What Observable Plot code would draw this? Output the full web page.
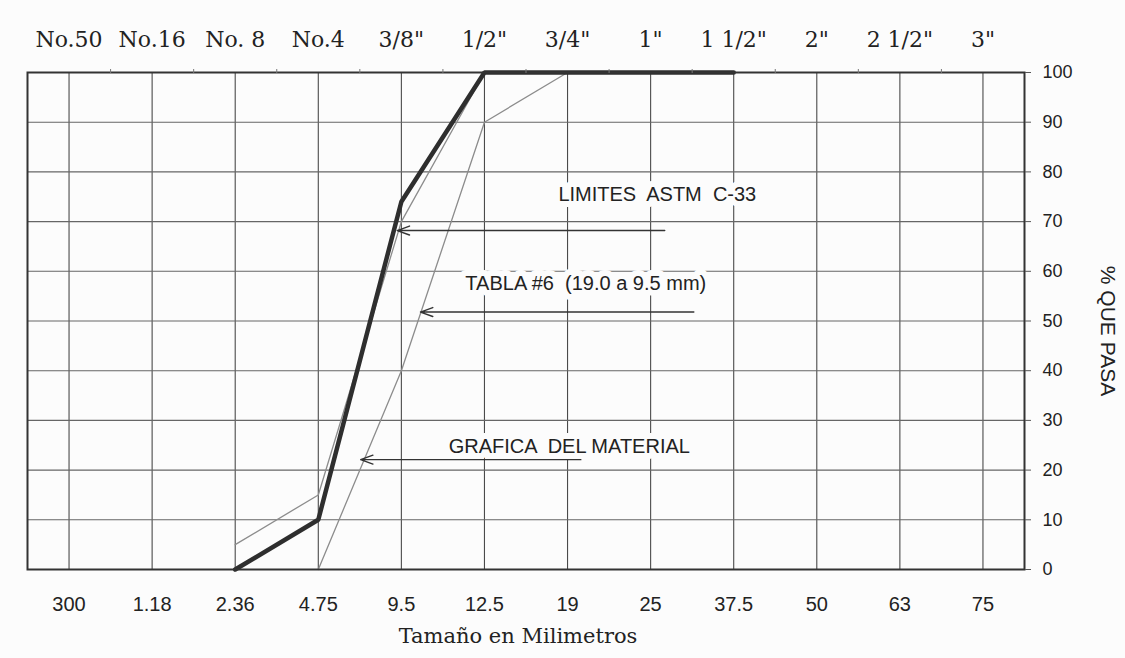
<!DOCTYPE html>
<html>
<head>
<meta charset="utf-8">
<script src="https://cdn.jsdelivr.net/npm/d3@7"></script>
<script src="https://cdn.jsdelivr.net/npm/@observablehq/plot@0.6"></script>
<style>
  html, body { margin: 0; padding: 0; background: #fcfcfc; overflow: hidden; }
  svg { display: block; }
  svg text { white-space: pre; }
</style>
</head>
<body>
<div id="chart"></div>
<script>
// ---- data ----
const sizesMm = ["300", "1.18", "2.36", "4.75", "9.5", "12.5", "19", "25", "37.5", "50", "63", "75"];
const sieveNames = ["No.50", "No.16", "No. 8", "No.4", "3/8\"", "1/2\"", "3/4\"", "1\"", "1 1/2\"", "2\"", "2 1/2\"", "3\""];
const material   = [null, null, 0, 10, 74, 100, 100, 100, 100, null, null, null];
const upperLimit = [null, null, 5, 15, 70, 100, 100, 100, 100, null, null, null];
const lowerLimit = [null, null, null, 0, 40, 90, 100, 100, 100, null, null, null];
const yTicks = [0, 10, 20, 30, 40, 50, 60, 70, 80, 90, 100];
const yGrid = [10, 20, 30, 40, 50, 60, 70, 80, 90];
const annotationTexts = ["LIMITES  ASTM  C-33", "TABLA #6  (19.0 a 9.5 mm)", "GRAFICA  DEL MATERIAL"];
const annotationX = [5.89, 4.77, 4.57];
const annotationY = [75.4, 57.5, 24.7];
const arrowFromX = [7.17, 7.52, 6.16];
const arrowToX   = [3.95, 4.23, 3.51];
const arrowY     = [68.2, 51.8, 22.1];

// ---- build ----
const idx = d3.range(sizesMm.length);
const toRows = (arr, name) => arr.map((v, i) => ({i, v, s: name})).filter(d => d.v !== null);
const limitRows = [...toRows(upperLimit, "sup"), ...toRows(lowerLimit, "inf")];
const materialRows = toRows(material, "mat");
const halfTicks = d3.range(sizesMm.length - 1).map(i => i + 0.5);

const chart = Plot.plot({
  width: 1125,
  height: 658,
  marginLeft: 27,
  marginRight: 101,
  marginTop: 72,
  marginBottom: 89,
  style: {background: "#fcfcfc", color: "#222", fontFamily: "Liberation Sans, Arial, sans-serif", overflow: "visible"},
  x: {type: "linear", domain: [-0.5, sizesMm.length - 0.5]},
  y: {domain: [0, 100]},
  marks: [
    Plot.ruleX(idx, {stroke: "#4a4a4a", strokeWidth: 1.1}),
    Plot.ruleY(yGrid, {stroke: "#666", strokeWidth: 1.1}),
    Plot.line(limitRows, {x: "i", y: "v", z: "s", stroke: "#8c8c8c", strokeWidth: 1.3}),
    Plot.line(materialRows, {x: "i", y: "v", stroke: "#2e2e2e", strokeWidth: 4.5, strokeLinejoin: "miter"}),
    Plot.frame({stroke: "#333", strokeWidth: 2}),
    Plot.axisX({anchor: "bottom", ticks: idx, tickFormat: i => sizesMm[i], tickSize: 0, tickPadding: 27,
                fontSize: 20, fontFamily: "Liberation Sans, Arial, sans-serif", fill: "#222", label: null}),
    Plot.axisX({anchor: "top", ticks: idx, tickFormat: i => sieveNames[i], tickSize: 0, tickPadding: 26,
                fontSize: 22, fontFamily: "DejaVu Serif, serif", fill: "#222", label: null}),
    Plot.axisX({anchor: "top", ticks: halfTicks, tickFormat: () => "", tickSize: 4, stroke: "#777", label: null}),
    Plot.axisY({anchor: "right", ticks: yTicks, tickSize: 6, tickPadding: 12, fontSize: 18,
                fontFamily: "Liberation Sans, Arial, sans-serif", fill: "#222", stroke: "#555", label: null}),
    Plot.text(["% QUE PASA"], {frameAnchor: "right", dx: 83, dy: 10, rotate: 90, textAnchor: "middle",
                lineAnchor: "middle", fontSize: 21, fontFamily: "Liberation Sans, Arial, sans-serif", fill: "#222"}),
    Plot.text(["Tamaño en Milimetros"], {frameAnchor: "bottom", dx: -8, dy: 67, lineAnchor: "middle",
                fontSize: 21, fontFamily: "DejaVu Serif, serif", fill: "#222"}),
    Plot.text(annotationTexts, {x: (d, i) => annotationX[i], y: (d, i) => annotationY[i], text: d => d,
                textAnchor: "start", fontSize: 20, fontFamily: "Liberation Sans, Arial, sans-serif",
                fill: "#222", stroke: "#fcfcfc", strokeWidth: 12, paintOrder: "stroke"}),
    Plot.arrow(d3.range(arrowY.length), {x1: i => arrowFromX[i], x2: i => arrowToX[i],
                y1: i => arrowY[i], y2: i => arrowY[i], stroke: "#333", strokeWidth: 1.4,
                headLength: 14, headAngle: 40})
  ]
});
document.getElementById("chart").append(chart);
</script>
</body>
</html>
